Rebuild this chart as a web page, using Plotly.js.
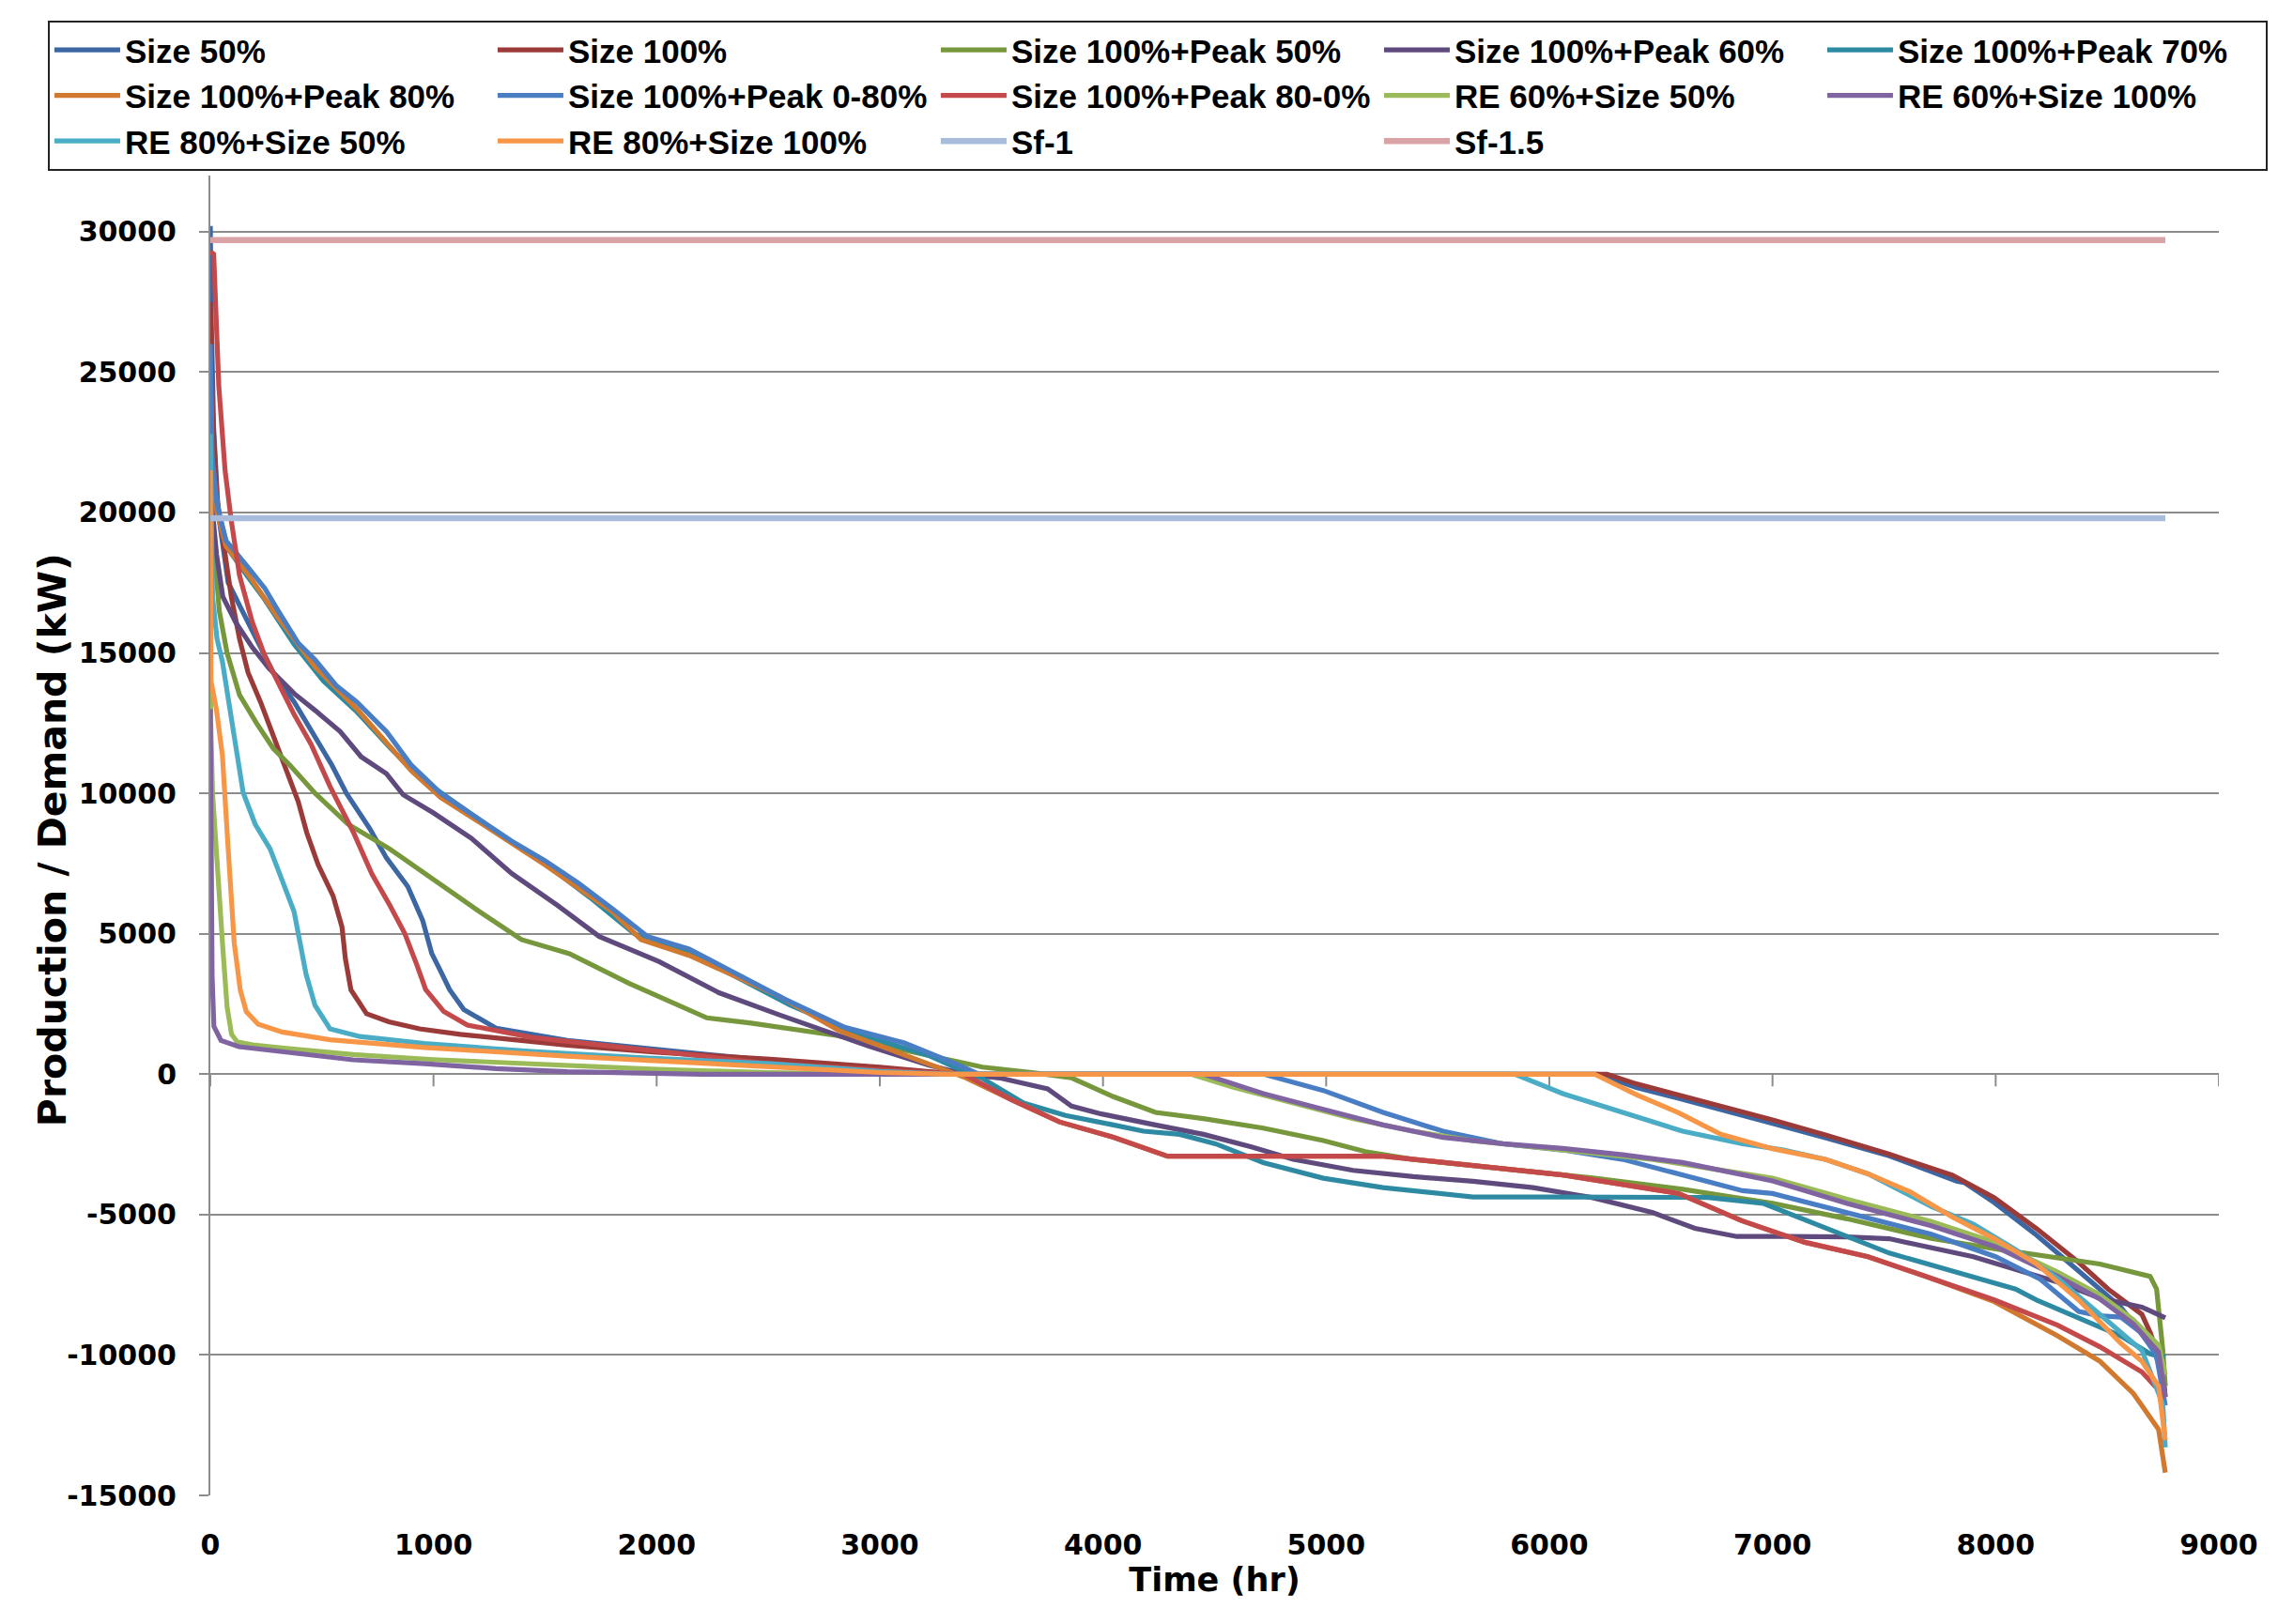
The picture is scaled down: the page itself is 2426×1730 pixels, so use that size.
<!DOCTYPE html>
<html>
<head>
<meta charset="utf-8">
<script src="https://cdn.plot.ly/plotly-3.0.1.min.js"></script>
<style>
html, body { margin: 0; padding: 0; background: #ffffff; }
#chart { width: 2426px; height: 1730px; }
</style>
</head>
<body>
<div id="chart"></div>
<script>
// ---------------- DATA ----------------
const seriesNames = [
  "Size 50%", "Size 100%", "Size 100%+Peak 50%", "Size 100%+Peak 60%", "Size 100%+Peak 70%",
  "Size 100%+Peak 80%", "Size 100%+Peak 0-80%", "Size 100%+Peak 80-0%", "RE 60%+Size 50%", "RE 60%+Size 100%",
  "RE 80%+Size 50%", "RE 80%+Size 100%", "Sf-1", "Sf-1.5"
];

const x_size50 = [0,4,15,35,80,150,207,282,376,432,488,545,610,714,789,885,952,992,1030,1072,1136,1280,1600,2080,2509,3000,3350,6219,6390,6579,6768,7000,7240,7523,7825,7862,7994,8183,8372,8560,8711,8760];
const y_size50 = [30200,27000,23000,20000,17500,16400,15500,14300,13250,12500,11750,11000,10000,8750,7700,6680,5460,4300,3700,3010,2300,1640,1200,810,480,200,0,0,-474,-860,-1243,-1756,-2270,-2910,-3808,-3870,-4577,-5730,-7010,-8295,-9833,-11100];

const x_size100 = [0,10,30,56,94,131,169,225,282,357,394,432,483,550,590,605,630,700,800,938,1120,1600,2000,2509,3000,3350,6258,6390,6579,6768,7000,7240,7523,7806,7994,8183,8372,8504,8655,8692,8749,8760];
const y_size100 = [27500,23500,20500,19000,17000,15500,14300,13250,12050,10550,9700,8600,7460,6350,5240,4120,3000,2150,1865,1615,1420,1030,780,530,250,0,0,-346,-730,-1115,-1628,-2170,-2850,-3600,-4400,-5500,-6700,-7653,-8550,-9190,-10474,-11500];

const x_peak50 = [0,15,40,75,131,207,282,357,470,617,804,1019,1206,1394,1609,1877,2091,2225,2423,2547,2810,3217,3460,3700,3860,4047,4235,4450,4718,4987,5175,5390,5658,5927,6195,6597,7000,7334,7711,8000,8277,8466,8692,8721,8749,8760];
const y_peak50 = [21000,19000,16500,15000,13500,12500,11600,11000,10000,8900,8020,6800,5790,4790,4290,3230,2450,2005,1820,1670,1370,670,250,40,-134,-803,-1361,-1585,-1920,-2366,-2756,-3035,-3259,-3482,-3700,-4100,-4600,-5150,-5850,-6220,-6560,-6760,-7200,-7650,-9830,-11100];

const x_peak60 = [0,10,28,56,113,188,263,376,470,582,676,789,864,1000,1170,1350,1555,1743,2011,2279,2547,2949,3217,3378,3537,3752,3859,3993,4235,4450,4665,4853,5121,5390,5658,5927,6195,6464,6652,6840,7049,7334,7523,7900,8277,8466,8655,8760];
const y_peak60 = [22500,20000,18500,17000,16100,15200,14450,13550,12950,12200,11300,10700,9950,9300,8400,7150,6016,4900,4010,2900,2120,1000,330,0,-134,-525,-1138,-1417,-1808,-2143,-2589,-3035,-3426,-3649,-3817,-4040,-4400,-4933,-5491,-5780,-5780,-5795,-5860,-6500,-7400,-7975,-8295,-8680];

const x_peak70 = [0,8,40,80,169,244,376,507,657,808,939,1127,1315,1500,1700,1900,2145,2359,2600,2895,3217,3405,3456,3644,3832,4047,4181,4343,4504,4718,4987,5255,5524,5658,6060,6329,6711,6957,7240,7523,7806,8089,8183,8372,8560,8692,8760];
const y_peak70 = [24000,21500,19900,18700,17700,16900,15300,14000,12900,11600,10550,9500,8450,7500,6300,5000,4345,3453,2450,1450,670,0,-134,-1027,-1473,-1808,-2031,-2143,-2478,-3147,-3705,-4040,-4263,-4375,-4375,-4380,-4390,-4600,-5474,-6370,-7012,-7653,-8040,-8680,-9320,-9960,-10090];

const x_peak80 = [0,8,30,70,169,300,470,657,901,1033,1200,1500,1800,1930,2145,2547,2815,3083,3298,3376,3591,3805,4047,4289,5255,5523,5792,6060,6330,6579,6862,7145,7428,7711,7994,8277,8466,8617,8730,8760];
const y_peak80 = [25000,21500,20000,18800,17800,16300,14500,13000,10800,9850,9000,7450,5800,4790,4230,2785,1560,780,110,-100,-915,-1700,-2250,-2920,-2920,-3150,-3370,-3590,-3930,-4250,-5218,-5987,-6500,-7269,-8100,-9320,-10218,-11372,-12653,-14190];

const x_peak0to80 = [0,8,30,70,169,244,300,394,470,563,657,789,901,1033,1200,1350,1500,1650,1800,1960,2145,2332,2574,2842,3110,3351,3445,4720,4987,5255,5523,5792,6060,6330,6597,6866,7000,7334,7711,8000,8200,8372,8460,8560,8650,8720,8760];
const y_peak0to80 = [26000,22000,20300,19000,18050,17300,16550,15350,14750,13850,13250,12200,11000,10000,9100,8300,7600,6800,5900,4900,4460,3680,2670,1670,1110,330,0,0,-580,-1360,-2030,-2480,-2700,-3035,-3590,-4150,-4250,-4950,-5700,-6500,-7300,-8450,-8600,-8650,-9200,-10000,-11800];

const x_peak80to0 = [0,15,38,66,94,131,188,244,319,376,451,536,643,724,804,871,925,965,1046,1152,1440,1920,2509,3000,3376,3591,3805,4047,4289,5255,5523,5792,6060,6330,6579,6862,7145,7428,7711,7994,8277,8466,8655,8760];
const y_peak80to0 = [29300,29200,24500,21500,19700,17750,16100,14900,13700,12800,11750,10250,8580,7130,6020,5010,3900,3010,2230,1750,1310,870,370,150,0,-915,-1700,-2250,-2920,-2920,-3150,-3370,-3590,-3930,-4250,-5218,-5987,-6500,-7269,-8038,-8935,-9705,-10602,-11500];

const x_re60size50 = [0,2,10,25,40,55,75,95,120,200,320,640,1000,1500,2000,2500,3000,4396,4584,4853,5121,5390,5658,5927,6195,6464,6732,7000,7334,7711,8000,8277,8466,8617,8730,8760];
const y_re60size50 = [15000,12500,10000,8000,6000,4600,2400,1420,1150,1030,930,700,520,330,170,60,0,0,-469,-1027,-1585,-2031,-2366,-2589,-2812,-3035,-3370,-3700,-4450,-5250,-6000,-7050,-7850,-8750,-9650,-10700];

const x_re60size100 = [0,3,8,16,48,128,320,640,960,1280,1600,1920,2200,4450,4718,4987,5255,5524,5792,6060,6329,6597,6866,7000,7334,7711,8000,8277,8466,8617,8730,8760];
const y_re60size100 = [13000,8000,3500,1700,1200,980,810,510,370,200,90,30,0,0,-692,-1250,-1808,-2254,-2477,-2645,-2868,-3147,-3594,-3800,-4600,-5400,-6150,-7200,-8000,-8900,-9900,-11500];

const x_re80size50 = [0,10,30,54,107,147,201,268,322,375,402,429,469,536,670,960,1440,1920,2509,3000,3300,5846,6060,6329,6597,6866,7049,7240,7428,7711,7900,8089,8277,8466,8655,8749,8760];
const y_re80size50 = [22800,17000,15500,14700,12030,10030,8900,8020,6900,5790,4680,3560,2450,1615,1340,1090,810,590,370,100,0,0,-692,-1361,-2031,-2477,-2700,-3040,-3550,-4705,-5345,-6245,-7270,-8550,-9833,-11756,-13294];

const x_re80size100 = [0,3,27,54,80,107,134,161,214,322,536,960,1600,2240,2509,3000,3300,6202,6390,6579,6768,7000,7240,7428,7617,7806,7994,8183,8372,8560,8655,8730,8760];
const y_re80size100 = [21500,14000,13000,11360,8020,4680,3000,2230,1780,1500,1225,950,640,370,255,60,0,0,-730,-1372,-2141,-2654,-3040,-3550,-4192,-5090,-5860,-6756,-8040,-9577,-10218,-11115,-13037];

const x_sf = [0, 8760];
const y_sf1 = [19800, 19800];
const y_sf15 = [29700, 29700];

const xTickValues = [0,1000,2000,3000,4000,5000,6000,7000,8000,9000];
const yTickValues = [-15000,-10000,-5000,0,5000,10000,15000,20000,25000,30000];

// ---------------- STYLE ----------------
const seriesColors = ["#3C67A3","#9B3B39","#77973D","#5F4A7D","#2E8AA3","#D0792F","#4A7EC4","#C4494A","#9BBB59","#8064A2","#4BACC6","#F79646","#A9BCDB","#D9A2A4"];
const seriesX = [x_size50,x_size100,x_peak50,x_peak60,x_peak70,x_peak80,x_peak0to80,x_peak80to0,x_re60size50,x_re60size100,x_re80size50,x_re80size100,x_sf,x_sf];
const seriesY = [y_size50,y_size100,y_peak50,y_peak60,y_peak70,y_peak80,y_peak0to80,y_peak80to0,y_re60size50,y_re60size100,y_re80size50,y_re80size100,y_sf1,y_sf15];

const traces = seriesNames.map((name, i) => ({
  type: "scatter",
  mode: "lines",
  name: name,
  x: seriesX[i],
  y: seriesY[i],
  line: { color: seriesColors[i], width: i >= 12 ? 6.5 : 5.2 },
  hoverinfo: "skip"
}));

const gridColor = "#8C8C8C";
const tickFont = { family: "DejaVu Sans", size: 30, color: "#000000", weight: "bold" };
const xTitleFont = { family: "DejaVu Sans", size: 35, color: "#000000", weight: "bold" };
const yTitleFont = { family: "DejaVu Sans", size: 41, color: "#000000", weight: "bold" };

// small tick marks hanging below the horizontal axis drawn at y = 0
const xTickMarks = xTickValues.map(v => ({
  type: "line", xref: "x", yref: "y", x0: v, x1: v,
  ysizemode: "pixel", yanchor: 0, y0: 0, y1: -13,
  line: { color: gridColor, width: 2 }, layer: "below"
}));

const layout = {
  width: 2426,
  height: 1730,
  margin: { l: 224, r: 63, t: 187, b: 137, autoexpand: false },
  paper_bgcolor: "#ffffff",
  plot_bgcolor: "#ffffff",
  showlegend: true,
  legend: {
    orientation: "h",
    x: -0.0809, xanchor: "left",
    y: 1.1174, yanchor: "top",
    bgcolor: "#ffffff",
    bordercolor: "#222222",
    borderwidth: 2,
    font: { family: "Liberation Sans", size: 35, color: "#000000", weight: "bold" },
    itemwidth: 70,
    entrywidth: 387,
    entrywidthmode: "pixels",
    traceorder: "normal",
    itemclick: false,
    itemdoubleclick: false
  },
  xaxis: {
    range: [0, 9000],
    tickmode: "array",
    tickvals: xTickValues,
    ticktext: xTickValues.map(String),
    ticks: "",
    showgrid: false,
    zeroline: false,
    showline: false,
    tickfont: tickFont,
    ticklabelstandoff: 32,
    title: { text: "Time (hr)", font: xTitleFont, standoff: 4 }
  },
  yaxis: {
    range: [-15000, 32000],
    tickmode: "array",
    tickvals: yTickValues,
    ticktext: yTickValues.map(String),
    showgrid: true,
    gridcolor: gridColor,
    gridwidth: 2,
    zeroline: true,
    zerolinecolor: gridColor,
    zerolinewidth: 2,
    showline: true,
    linecolor: gridColor,
    linewidth: 2,
    ticks: "outside",
    ticklen: 10,
    tickwidth: 2,
    tickcolor: gridColor,
    tickfont: tickFont,
    ticklabelstandoff: 18
  },
  annotations: [{
    text: "Production / Demand (kW)",
    xref: "paper", yref: "paper",
    x: -0.0785, y: 0.4964,
    xanchor: "center", yanchor: "middle",
    textangle: -90,
    showarrow: false,
    font: yTitleFont
  }],
  shapes: xTickMarks
};

Plotly.newPlot("chart", traces, layout, { displayModeBar: false, staticPlot: true });
</script>
</body>
</html>
